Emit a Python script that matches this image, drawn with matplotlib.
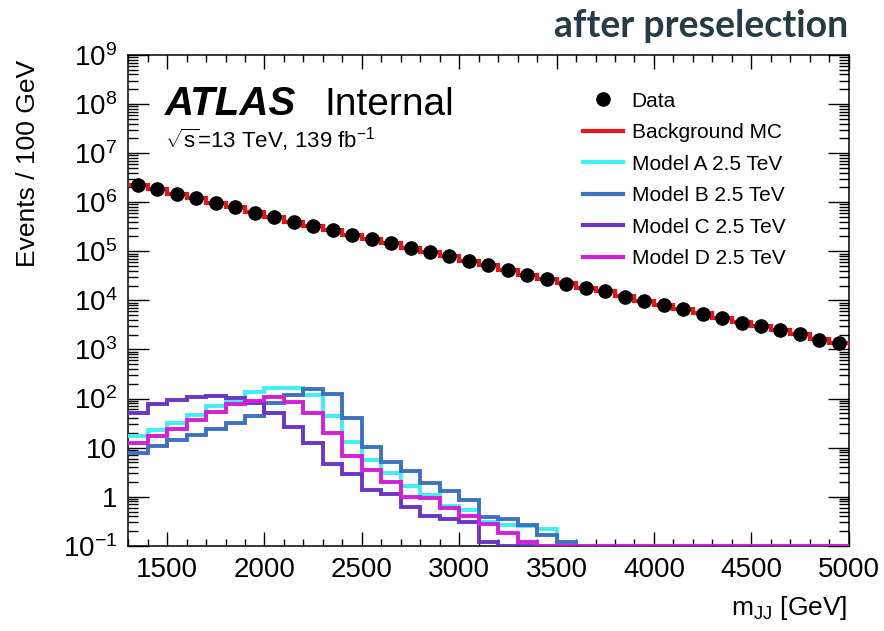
import numpy as np
import matplotlib
matplotlib.use("Agg")
import matplotlib.pyplot as plt
from matplotlib.ticker import MultipleLocator, LogLocator, FuncFormatter, NullFormatter
from matplotlib.lines import Line2D

plt.rcParams['font.family'] = ['Liberation Sans', 'DejaVu Sans']
plt.rcParams['mathtext.fontset'] = 'custom'
plt.rcParams['mathtext.rm'] = 'Liberation Sans'
plt.rcParams['mathtext.it'] = 'Liberation Sans:italic'
plt.rcParams['mathtext.bf'] = 'Liberation Sans:bold'

# 100 GeV bins, 1300 - 5000 GeV
bin_edges = np.arange(1300, 5001, 100)

data = [2.25e6, 1.87e6, 1.48e6, 1.21e6, 9.55e5, 7.91e5, 6.14e5, 5.09e5, 3.97e5, 3.24e5,
        2.69e5, 2.13e5, 1.79e5, 1.46e5, 1.17e5, 9.59e4, 8.05e4, 6.28e4, 5.16e4, 4.18e4,
        3.35e4, 2.78e4, 2.20e4, 1.82e4, 1.56e4, 1.19e4, 9.91e3, 8.20e3, 6.81e3, 5.38e3,
        4.34e3, 3.53e3, 3.07e3, 2.51e3, 2.05e3, 1.57e3, 1.38e3]

bkg_mc = [2.25e6, 1.86e6, 1.49e6, 1.21e6, 9.60e5, 7.85e5, 6.18e5, 5.05e5, 4.00e5, 3.22e5,
          2.68e5, 2.15e5, 1.78e5, 1.46e5, 1.18e5, 9.55e4, 8.00e4, 6.30e4, 5.15e4, 4.20e4,
          3.35e4, 2.77e4, 2.21e4, 1.82e4, 1.55e4, 1.20e4, 9.90e3, 8.20e3, 6.80e3, 5.40e3,
          4.35e3, 3.55e3, 3.05e3, 2.50e3, 2.05e3, 1.60e3, 1.38e3]

model_a = [16.9, 23.0, 31.5, 46.6, 71.0, 91.2, 133, 163, 163, 119,
           44.4, 13.3, 5.64, 3.02, 1.62, 1.09, 0.65, 0.54, 0.31, 0.27,
           0.25, 0.22] + [0.0] * 15

model_b = [7.71, 10.9, 14.4, 18.2, 23.8, 32.5, 44.4, 80.4, 119, 155,
           125, 39.8, 10.1, 4.98, 3.27, 1.89, 1.28, 0.84, 0.38, 0.355,
           0.27, 0.17, 0.117] + [0.0] * 14

model_c = [51.9, 76.8, 94.1, 107, 115, 102, 83, 51.9, 26.9, 12.3,
           4.6, 2.93, 1.34, 1.15, 0.63, 0.41, 0.35, 0.30, 0.12] + [0.0] * 18

model_d = [12.3, 16.9, 23.8, 36.8, 54.4, 78, 91.2, 110, 84.3, 51.9,
           20.3, 6.81, 3.53, 2.04, 1.01, 0.935, 0.585, 0.40, 0.28, 0.18,
           0.117] + [0.0] * 16

signal_labels = ["Model A 2.5 TeV", "Model B 2.5 TeV", "Model C 2.5 TeV", "Model D 2.5 TeV"]
signal_colors = ["#3ff0f0", "#3d72c2", "#6a36c6", "#d41fd8"]

ymin, ymax = 0.1, 1e9

fig = plt.figure(figsize=(8.84, 6.31), dpi=100)
ax = fig.add_axes([0.145, 0.135, 0.815, 0.778])

centers = 0.5 * (bin_edges[:-1] + bin_edges[1:])
ax.stairs(bkg_mc, bin_edges, color="#e8141c", lw=3.0, baseline=None, zorder=3)
for vals, col in zip([model_a, model_b, model_c, model_d], signal_colors):
    ax.stairs(np.clip(vals, ymin, None), bin_edges, color=col, lw=2.8, baseline=None, zorder=4)
ax.plot(centers, data, 'o', color='black', ms=9.5, zorder=5)

ax.set_yscale('log')
ax.set_xlim(1300, 5000)
ax.set_ylim(ymin, ymax)

def log_label(v, pos):
    n = int(round(np.log10(v)))
    if n == 0:
        return "1"
    if n == 1:
        return "10"
    return r"$10^{%d}$" % n

ax.xaxis.set_major_locator(MultipleLocator(500))
ax.xaxis.set_minor_locator(MultipleLocator(100))
ax.yaxis.set_major_locator(LogLocator(base=10, numticks=20))
ax.yaxis.set_minor_locator(LogLocator(base=10, subs=np.arange(2, 10), numticks=20))
ax.yaxis.set_major_formatter(FuncFormatter(log_label))
ax.yaxis.set_minor_formatter(NullFormatter())

ax.tick_params(axis='both', which='both', direction='in', top=True, right=True,
               labelsize=20, width=1.0)
ax.tick_params(axis='x', which='major', length=10, pad=8)
ax.tick_params(axis='x', which='minor', length=5)
ax.tick_params(axis='y', which='major', length=15, pad=8)
ax.tick_params(axis='y', which='minor', length=7.5)
for sp in ax.spines.values():
    sp.set_linewidth(1.1)

ax.text(0.051, 0.878, "ATLAS", transform=ax.transAxes, fontsize=29,
        fontweight='bold', fontstyle='italic', va='baseline')
ax.text(0.273, 0.878, "Internal", transform=ax.transAxes, fontsize=28, va='baseline')
ax.text(0.051, 0.811, r"$\sqrt{\mathrm{s}}$=13 TeV, 139 fb$^{-1}$", transform=ax.transAxes,
        fontsize=16, va='baseline')

handles = [Line2D([], [], ls='none', marker='o', color='black', ms=9.5),
           Line2D([], [], color="#e8141c", lw=3)]
handles += [Line2D([], [], color=c, lw=3) for c in signal_colors]
labels = ["Data", "Background MC"] + signal_labels
ax.legend(handles, labels, loc='upper left', bbox_to_anchor=(0.631, 0.925),
          frameon=False, fontsize=15, borderpad=0, borderaxespad=0,
          handlelength=1.92, handletextpad=0.43, labelspacing=0.6)

fig.text(0.032, 0.905, "Events / 100 GeV", rotation=90, ha='center', va='top', fontsize=19)
fig.text(0.959, 0.036, r"m$_{\mathrm{JJ}}$ [GeV]", ha='right', va='center', fontsize=19)
fig.text(0.959, 0.942, "after preselection", ha='right', va='baseline', fontsize=27,
         fontweight='bold', family=['Lato', 'DejaVu Sans'], color='#263b46')

fig.savefig("out.png", dpi=100)
